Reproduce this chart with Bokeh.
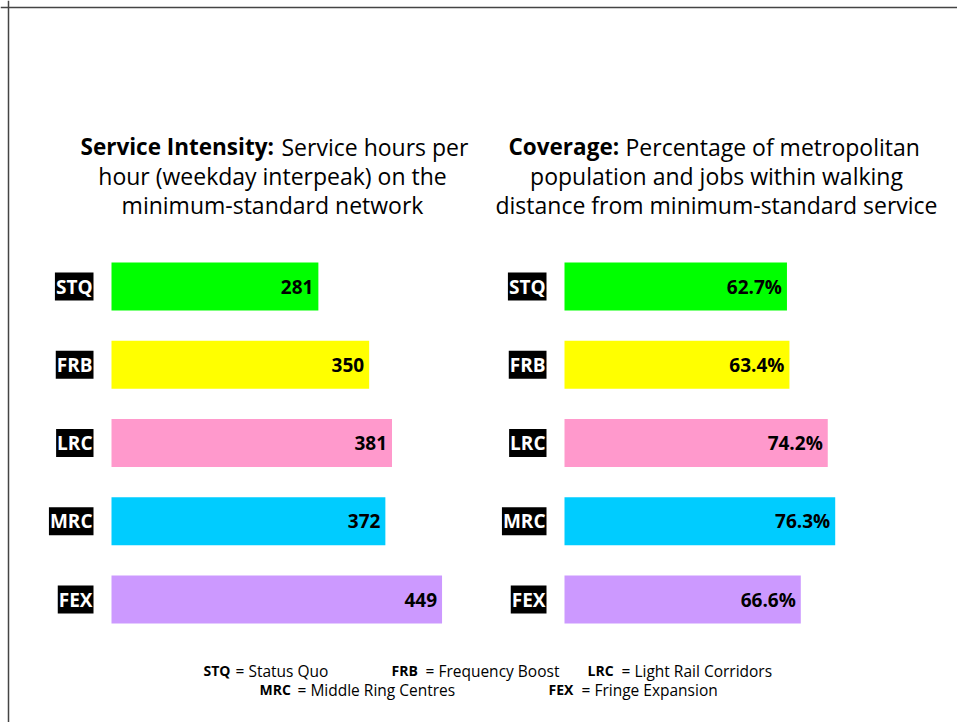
from bokeh.plotting import figure
from bokeh.models import ColumnDataSource, Range1d, Span
from bokeh.core.properties import value
from bokeh.embed import file_html
from bokeh.resources import INLINE

# ---- data ----
scenarios = ["STQ", "FRB", "LRC", "MRC", "FEX"]
scenario_names = ["Status Quo", "Frequency Boost", "Light Rail Corridors",
                  "Middle Ring Centres", "Fringe Expansion"]
colors = ["#00FF00", "#FFFF00", "#FF99CC", "#00CCFF", "#CC99FF"]
service_intensity = [281, 350, 381, 372, 449]
coverage = [62.7, 63.4, 74.2, 76.3, 66.6]
si_labels = [str(v) for v in service_intensity]
cov_labels = ["%.1f%%" % v for v in coverage]

# ---- layout (page pixels) ----
W, H = 957, 722
FONT = "Open Sans"

p = figure(width=W, height=H, output_backend="svg", toolbar_location=None,
           x_axis_type=None, y_axis_type=None, min_border=0,
           x_range=Range1d(0, W), y_range=Range1d(H, 0))
p.outline_line_color = None
p.grid.visible = False

# scales for the two panels
left0, k1 = 111, 0.7362       # pixel start, px per service hour
right0, k2 = 564, 3.548       # pixel start, px per percent
cat0, kc = 286, 78.25         # pixel centre of first bar, px per category
p.extra_x_ranges = {
    "si": Range1d(-left0 / k1, (W - left0) / k1),
    "cov": Range1d(-right0 / k2, (W - right0) / k2),
}
p.extra_y_ranges = {"cat": Range1d((H - cat0) / kc, -cat0 / kc)}

src = ColumnDataSource(dict(
    idx=list(range(len(scenarios))), cat=scenarios, color=colors,
    si=service_intensity, cov=coverage, si_lab=si_labels, cov_lab=cov_labels,
    zero=[0] * len(scenarios),
))

bar_h = 0.613
p.hbar(y="idx", left="zero", right="si", height=bar_h, fill_color="color",
       line_color=None, source=src, x_range_name="si", y_range_name="cat")
p.hbar(y="idx", left="zero", right="cov", height=bar_h, fill_color="color",
       line_color=None, source=src, x_range_name="cov", y_range_name="cat")

# value labels
for xname, col in (("si", "si_lab"), ("cov", "cov_lab")):
    p.text(x=xname, y="idx", text=col, source=src, x_range_name=xname,
           y_range_name="cat", x_offset=-5, text_align="right",
           text_baseline="middle", text_font=value(FONT), text_font_style="bold",
           text_font_size="19px", text_color="black")

# category tags (white on black)
for xr in (93, 546):
    p.text(x=xr, y="idx", text="cat", source=src, y_range_name="cat",
           text_align="right", text_baseline="middle", text_font=value(FONT),
           text_font_style="bold", text_font_size="19px", text_color="white",
           background_fill_color="black", padding=1)

def t(x, y, s, bold=False, align="center", size="23px"):
    p.text(x=[x], y=[y], text=[s], text_align=align, text_baseline="middle",
           text_font=value(FONT), text_font_style="bold" if bold else "normal",
           text_font_size=size, text_color="black")

# titles
ty = [146, 175, 204]
t(80, ty[0], "Service Intensity:", bold=True, align="left", size="22.5px")
t(281, ty[0], "Service hours per", align="left")
t(272, ty[1], "hour (weekday interpeak) on the")
t(272, ty[2], "minimum-standard network")

t(508, ty[0], "Coverage:", bold=True, align="left", size="22.5px")
t(625, ty[0], "Percentage of metropolitan", align="left")
t(716, ty[1], "population and jobs within walking")
t(716, ty[2], "distance from minimum-standard service")

# legend
leg_pos = [(203, 235, 670), (391, 425, 670), (587, 621, 670),
           (259, 297, 689), (548, 581, 689)]
for (xb, xr, yy), ab, nm in zip(leg_pos, scenarios, scenario_names):
    t(xb, yy, ab, bold=True, align="left", size="14px")
    t(xr, yy, "= " + nm, align="left", size="15.5px")

# frame lines (top and left)
p.add_layout(Span(location=7, dimension="width", line_color="#444444", line_width=1.5))
p.add_layout(Span(location=8, dimension="height", line_color="#444444", line_width=1.5))

open("out.html", "w").write(file_html(p, INLINE))
